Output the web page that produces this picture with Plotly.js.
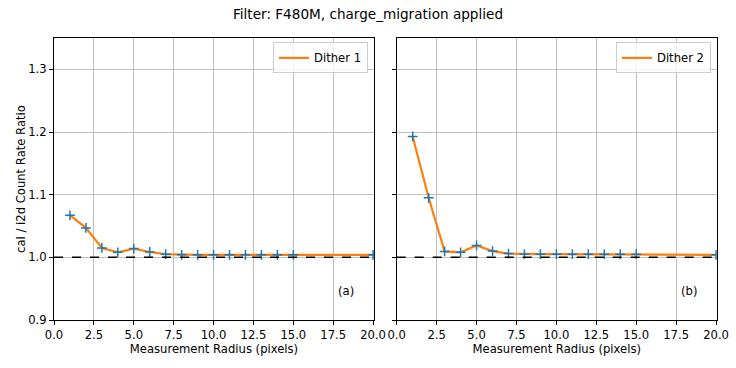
<!DOCTYPE html>
<html>
<head>
<meta charset="utf-8">
<script src="https://cdn.plot.ly/plotly-3.0.1.min.js"></script>
<style>
  body { margin: 0; background: #fff; }
  #chart { width: 736px; height: 368px; }
</style>
</head>
<body>
<div id="chart"></div>
<script>
// Ratio cal / i2d por radio de medida, dos dithers
var radios = [1, 2, 3, 4, 5, 6, 7, 8, 9, 10, 11, 12, 13, 14, 15, 20];
var dither1 = [1.067, 1.047, 1.015, 1.008, 1.014, 1.0085, 1.005, 1.004, 1.004, 1.004, 1.004, 1.004, 1.004, 1.004, 1.004, 1.004];
var dither2 = [1.193, 1.095, 1.0095, 1.008, 1.019, 1.010, 1.006, 1.005, 1.005, 1.005, 1.005, 1.005, 1.005, 1.005, 1.005, 1.004];
var xTicks = [0, 2.5, 5, 7.5, 10, 12.5, 15, 17.5, 20];
var yTicks = [0.9, 1.0, 1.1, 1.2, 1.3];

var naranja = '#ff7f0e';
var azul = '#1f77b4';
var fuente = 'DejaVu Sans, sans-serif';
var tam = 11.6;

function linea(y, nombre, xa, ya, leg) {
    return {
        x: radios, y: y, name: nombre, type: 'scatter', mode: 'lines',
        xaxis: xa, yaxis: ya, legend: leg,
        line: {color: naranja, width: 2.2}
    };
}
function cruces(y, xa, ya) {
    return {
        x: radios, y: y, type: 'scatter', mode: 'markers', showlegend: false,
        xaxis: xa, yaxis: ya, hoverinfo: 'skip',
        marker: {symbol: 'cross-thin', size: 7, color: azul, line: {color: azul, width: 1.5}}
    };
}

var data = [
    linea(dither1, 'Dither 1', 'x', 'y', 'legend'),
    cruces(dither1, 'x', 'y'),
    linea(dither2, 'Dither 2', 'x2', 'y2', 'legend2'),
    cruces(dither2, 'x2', 'y2')
];

function ejeX(dominio, ancla) {
    return {
        domain: dominio, anchor: ancla, range: [0, 20.05],
        tickvals: xTicks, ticktext: xTicks.map(function (v) { return v.toFixed(1); }),
        ticks: 'outside', ticklen: 4, tickcolor: '#000',
        showline: true, linecolor: '#000', linewidth: 1, mirror: true,
        showgrid: true, gridcolor: '#b0b0b0', gridwidth: 0.8, zeroline: false,
        tickfont: {size: tam, color: '#000'},
        title: {text: 'Measurement Radius (pixels)', font: {size: tam, color: '#000'}, standoff: 1}
    };
}
function ejeY(ancla, etiquetas) {
    var e = {
        anchor: ancla, domain: [0.1304, 0.8967], range: [0.9, 1.35],
        tickvals: yTicks, ticktext: yTicks.map(function (v) { return v.toFixed(1); }),
        showticklabels: etiquetas,
        ticks: 'outside', ticklen: 4, tickcolor: '#000',
        showline: true, linecolor: '#000', linewidth: 1, mirror: true,
        showgrid: true, gridcolor: '#b0b0b0', gridwidth: 0.8, zeroline: false,
        tickfont: {size: tam, color: '#000'}
    };
    if (etiquetas) {
        e.title = {text: 'cal / i2d Count Rate Ratio', font: {size: tam, color: '#000'}, standoff: 0};
    }
    return e;
}

function leyenda(xPos) {
    return {
        x: xPos, y: 0.885, xref: 'paper', yref: 'paper', xanchor: 'right', yanchor: 'top',
        bgcolor: 'rgba(255,255,255,0.8)', bordercolor: '#cccccc', borderwidth: 1,
        font: {size: tam, color: '#000'}, itemwidth: 30
    };
}

var layout = {
    width: 736, height: 368,
    margin: {l: 0, r: 0, t: 0, b: 0},
    paper_bgcolor: '#fff', plot_bgcolor: '#fff',
    font: {family: fuente, color: '#000'},
    showlegend: true,
    title: {text: 'Filter: F480M, charge_migration applied', x: 0.5, y: 0.962, yanchor: 'middle',
            font: {size: 13.6, color: '#000'}},
    xaxis: ejeX([0.0734, 0.508], 'y'),
    yaxis: ejeY('x', true),
    xaxis2: ejeX([0.539, 0.974], 'y2'),
    yaxis2: ejeY('x2', false),
    legend: leyenda(0.5),
    legend2: leyenda(0.966),
    shapes: [
        {type: 'line', xref: 'x domain', yref: 'y', x0: 0, x1: 1, y0: 1, y1: 1,
         line: {color: '#000', width: 1.5, dash: 'dash'}},
        {type: 'line', xref: 'x2 domain', yref: 'y2', x0: 0, x1: 1, y0: 1, y1: 1,
         line: {color: '#000', width: 1.5, dash: 'dash'}}
    ],
    annotations: [
        {text: '(a)', xref: 'x domain', yref: 'y domain', x: 0.945, y: 0.07, showarrow: false,
         font: {size: tam, color: '#000'}},
        {text: '(b)', xref: 'x2 domain', yref: 'y2 domain', x: 0.945, y: 0.07, showarrow: false,
         font: {size: tam, color: '#000'}}
    ]
};

Plotly.newPlot('chart', data, layout, {displayModeBar: false, staticPlot: true});
</script>
</body>
</html>
